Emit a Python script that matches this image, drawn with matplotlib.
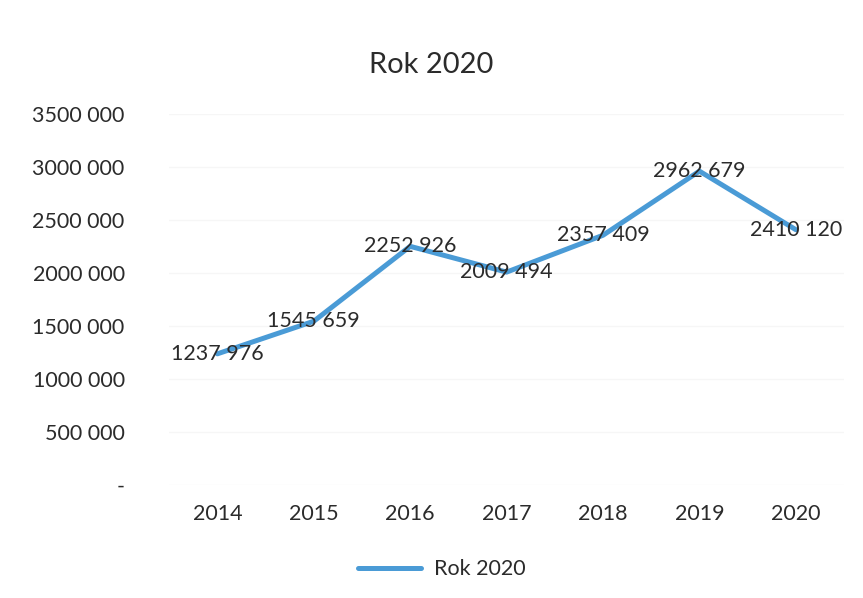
import matplotlib.pyplot as plt
from matplotlib.ticker import FuncFormatter

plt.rcParams['font.family'] = ['Lato', 'DejaVu Sans']

years = ['2014', '2015', '2016', '2017', '2018', '2019', '2020']
values = [1237976, 1545659, 2252926, 2009494, 2357409, 2962679, 2410120]
series_name = 'Rok 2020'

LINE = '#4A9BD6'
TEXT = '#2b2b2b'


def fmt_num(v, pos=None):
    if v == 0:
        return '-'
    s = f'{int(round(v)):,}'.replace(',', ' ')
    # Excel-style: only the last group separated
    head, _, tail = s.rpartition(' ')
    return head.replace(' ', '') + ' ' + tail if head else s


fig = plt.figure(figsize=(8.63, 5.98), dpi=100)
ax = fig.add_axes([0.196, 0.189, 0.782, 0.62])

x = list(range(len(years)))
ax.plot(x, values, color=LINE, linewidth=3.6, solid_capstyle='round',
        solid_joinstyle='round', label=series_name, zorder=2)

for xi, v in zip(x, values):
    ax.text(xi, v, fmt_num(v), ha='center', va='center', fontsize=15.5,
            color=TEXT, zorder=3)

ax.set_xlim(-0.5, len(years) - 0.5)
ax.set_ylim(0, 3500000)
ax.set_yticks(range(0, 3500001, 500000))
ax.yaxis.set_major_formatter(FuncFormatter(fmt_num))
ax.set_xticks(x)
ax.set_xticklabels(years)

ax.grid(axis='y', color='#f6f6f6', linewidth=1)
ax.set_axisbelow(True)
for sp in ax.spines.values():
    sp.set_visible(False)
ax.tick_params(length=0, labelsize=15.5, labelcolor=TEXT)
ax.tick_params(axis='y', pad=32)
ax.tick_params(axis='x', pad=14)

fig.suptitle(series_name, y=0.913, fontsize=21, color=TEXT)

fig.legend(loc='center', bbox_to_anchor=(0.512, 0.048), frameon=False,
           fontsize=15.5, handlelength=2.9, handletextpad=0.6,
           labelcolor=TEXT)

fig.savefig('out.png', dpi=100, facecolor='white')
